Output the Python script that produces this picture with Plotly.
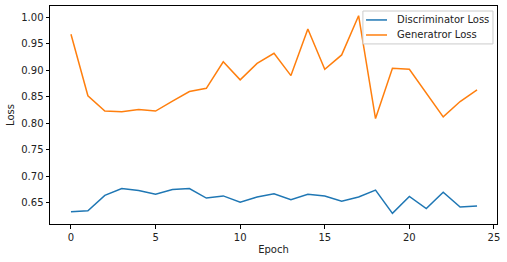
import plotly.graph_objects as go

epochs = list(range(25))
disc_loss = [0.633, 0.635, 0.664, 0.677, 0.673, 0.666, 0.675, 0.677, 0.659, 0.663,
             0.651, 0.661, 0.667, 0.656, 0.666, 0.663, 0.653, 0.661, 0.674, 0.630,
             0.662, 0.639, 0.670, 0.642, 0.644]
gen_loss = [0.968, 0.852, 0.823, 0.822, 0.826, 0.823, 0.842, 0.860, 0.866, 0.916,
            0.882, 0.913, 0.932, 0.890, 0.978, 0.902, 0.929, 1.003, 0.809, 0.904,
            0.902, 0.858, 0.812, 0.841, 0.863]
series_names = ["Discriminator Loss", "Generatror Loss"]
series_colors = ["#1f77b4", "#ff7f0e"]
y_ticks = [0.65, 0.70, 0.75, 0.80, 0.85, 0.90, 0.95, 1.00]
x_ticks = [0, 5, 10, 15, 20, 25]

fig = go.Figure()
for vals, name, col in zip([disc_loss, gen_loss], series_names, series_colors):
    fig.add_trace(go.Scatter(x=epochs, y=vals, mode="lines", name=name,
                             line=dict(color=col, width=1.5), showlegend=False))

axis_common = dict(showline=True, linecolor="black", linewidth=1, mirror=True,
                   ticks="outside", ticklen=3.5, tickcolor="black", showgrid=False,
                   zeroline=False, tickfont=dict(size=10, color="#222"))
fig.update_xaxes(range=[-1.24, 25.18], tickvals=x_ticks,
                 title=dict(text="Epoch", font=dict(size=10, color="#222"), standoff=4),
                 **axis_common)
fig.update_yaxes(range=[0.610, 1.0213], tickvals=y_ticks, tickformat=".2f",
                 title=dict(text="Loss", font=dict(size=10, color="#222"), standoff=4),
                 **axis_common)

# matplotlib-style legend box (paper coordinates)
fig.add_shape(type="rect", xref="paper", yref="paper", x0=0.700, x1=0.991, y0=0.826, y1=0.977,
              fillcolor="rgba(255,255,255,0.8)", line=dict(color="#cccccc", width=1), layer="above")
row_y = [0.936, 0.867]
for ry, name, col in zip(row_y, series_names, series_colors):
    fig.add_shape(type="line", xref="paper", yref="paper", x0=0.707, x1=0.754, y0=ry, y1=ry,
                  line=dict(color=col, width=1.5), layer="above")
    fig.add_annotation(xref="paper", yref="paper", x=0.772, y=ry, text=name, showarrow=False,
                       xanchor="left", yanchor="middle", font=dict(size=10, color="#222"))

fig.update_layout(
    width=507, height=262,
    margin=dict(l=50, r=10, t=6, b=38),
    plot_bgcolor="white", paper_bgcolor="white",
    font=dict(family="DejaVu Sans", size=10, color="#222"),
)
fig.write_html("out.html")
